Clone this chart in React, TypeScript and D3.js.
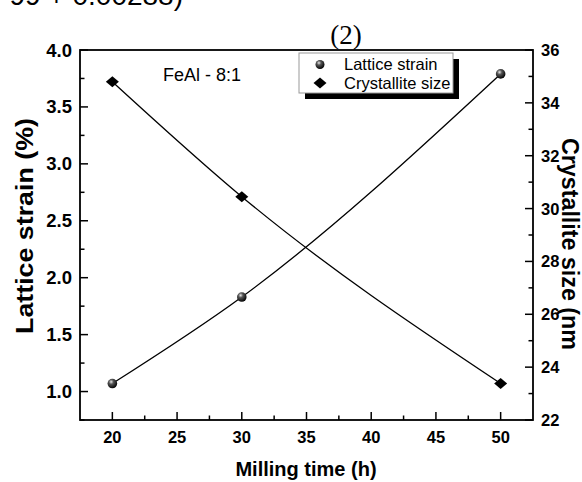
import * as d3 from 'd3';

// milling time (h)
const millingTime = [20, 30, 50];
// lattice strain (%) on left axis
const latticeStrain = [1.07, 1.83, 3.79];
// crystallite size (nm) on right axis
const crystalliteSize = [34.8, 30.45, 23.38];

const xTicks = [20, 25, 30, 35, 40, 45, 50];
const xMinor = [22.5, 27.5, 32.5, 37.5, 42.5, 47.5];
const leftTicks = [1.0, 1.5, 2.0, 2.5, 3.0, 3.5, 4.0];
const leftMinor = [0.75, 1.25, 1.75, 2.25, 2.75, 3.25, 3.75];
const rightTicks = [22, 24, 26, 28, 30, 32, 34, 36];
const rightMinor = [23, 25, 27, 29, 31, 33, 35];

const W = 582;
const H = 482;
const frame = { left: 80, right: 533, top: 50, bottom: 420 };
const sans = '"Liberation Sans", Arial, sans-serif';

export default function App() {
  const x = d3.scaleLinear().domain([17.5, 52.5]).range([frame.left, frame.right]);
  const yL = d3.scaleLinear().domain([0.75, 4.0]).range([frame.bottom, frame.top]);
  const yR = d3.scaleLinear().domain([22, 36]).range([frame.bottom, frame.top]);

  const strainPts = millingTime.map((t, i) => [x(t), yL(latticeStrain[i])] as [number, number]);
  const sizePts = millingTime.map((t, i) => [x(t), yR(crystalliteSize[i])] as [number, number]);
  const line = d3.line().curve(d3.curveMonotoneX);

  const diamond = (cx: number, cy: number) =>
    `M${cx},${cy - 5.5}L${cx + 6.5},${cy}L${cx},${cy + 5.5}L${cx - 6.5},${cy}Z`;

  const major = 8;
  const minor = 4.5;

  return (
    <svg
      width={W}
      height={H}
      style={{ position: 'absolute', left: 0, top: 0, background: '#fff' }}
    >
      <defs>
        <radialGradient id="ball" cx="0.38" cy="0.32" r="0.7">
          <stop offset="0%" stopColor="#e8e8e8" />
          <stop offset="35%" stopColor="#555" />
          <stop offset="100%" stopColor="#000" />
        </radialGradient>
      </defs>

      {/* cropped equation from the page above */}
      <text x={183} y={5} textAnchor="end" fontFamily={sans} fontSize={28} fill="#000">
        99 + 0.00288)
      </text>
      <text x={346} y={44} textAnchor="middle" fontFamily='"Liberation Serif", "Times New Roman", serif' fontSize={27}>
        (2)
      </text>

      {/* frame */}
      <rect
        x={frame.left}
        y={frame.top}
        width={frame.right - frame.left}
        height={frame.bottom - frame.top}
        fill="none"
        stroke="#000"
        strokeWidth={1.8}
      />

      {/* x ticks */}
      {xTicks.map((t) => (
        <g key={'x' + t}>
          <line x1={x(t)} x2={x(t)} y1={frame.bottom} y2={frame.bottom - major} stroke="#000" strokeWidth={1.5} />
          <text x={x(t)} y={443} textAnchor="middle" fontFamily={sans} fontWeight="bold" fontSize={16.5}>
            {t}
          </text>
        </g>
      ))}
      {xMinor.map((t) => (
        <line key={'xm' + t} x1={x(t)} x2={x(t)} y1={frame.bottom} y2={frame.bottom - minor} stroke="#000" strokeWidth={1.5} />
      ))}

      {/* left ticks */}
      {leftTicks.map((v) => (
        <g key={'l' + v}>
          <line x1={frame.left} x2={frame.left + major} y1={yL(v)} y2={yL(v)} stroke="#000" strokeWidth={1.5} />
          <text x={72} y={yL(v) + 6.5} textAnchor="end" fontFamily={sans} fontWeight="bold" fontSize={18.5}>
            {v.toFixed(1)}
          </text>
        </g>
      ))}
      {leftMinor.map((v) => (
        <line key={'lm' + v} x1={frame.left} x2={frame.left + minor} y1={yL(v)} y2={yL(v)} stroke="#000" strokeWidth={1.5} />
      ))}

      {/* right ticks */}
      {rightTicks.map((v) => (
        <g key={'r' + v}>
          <line x1={frame.right} x2={frame.right - major} y1={yR(v)} y2={yR(v)} stroke="#000" strokeWidth={1.5} />
          <text x={541} y={yR(v) + 6} textAnchor="start" fontFamily={sans} fontWeight="bold" fontSize={16.5}>
            {v}
          </text>
        </g>
      ))}
      {rightMinor.map((v) => (
        <line key={'rm' + v} x1={frame.right} x2={frame.right - minor} y1={yR(v)} y2={yR(v)} stroke="#000" strokeWidth={1.5} />
      ))}

      {/* axis titles */}
      <text x={306} y={476} textAnchor="middle" fontFamily={sans} fontWeight="bold" fontSize={20}>
        Milling time (h)
      </text>
      <text
        transform={`translate(33,226) rotate(-90)`}
        textAnchor="middle"
        fontFamily={sans}
        fontWeight="bold"
        fontSize={24}
        textLength={216}
        lengthAdjust="spacingAndGlyphs"
      >
        Lattice strain (%)
      </text>
      <text
        transform={`translate(562,138) rotate(90)`}
        textAnchor="start"
        fontFamily={sans}
        fontWeight="bold"
        fontSize={23}
        textLength={212}
        lengthAdjust="spacingAndGlyphs"
      >
        Crystallite size (nm
      </text>

      {/* curves */}
      <path d={line(strainPts) ?? ''} fill="none" stroke="#000" strokeWidth={1.3} />
      <path d={line(sizePts) ?? ''} fill="none" stroke="#000" strokeWidth={1.3} />

      {strainPts.map(([cx, cy], i) => (
        <circle key={'s' + i} cx={cx} cy={cy} r={4.8} fill="url(#ball)" />
      ))}
      {sizePts.map(([cx, cy], i) => (
        <path key={'c' + i} d={diamond(cx, cy)} fill="#000" />
      ))}

      {/* annotation */}
      <text x={163} y={81} fontFamily={sans} fontSize={18}>
        FeAl - 8:1
      </text>

      {/* legend */}
      <rect x={305} y={59} width={154} height={40} fill="#000" />
      <rect x={299} y={53} width={154} height={40} fill="#fff" stroke="#999" strokeWidth={1} />
      <circle cx={320} cy={64.5} r={4.5} fill="url(#ball)" />
      <path d={diamond(320, 83)} fill="#000" />
      <text x={344} y={70} fontFamily={sans} fontSize={16.5}>
        Lattice strain
      </text>
      <text x={344} y={89} fontFamily={sans} fontSize={16.5}>
        Crystallite size
      </text>
    </svg>
  );
}
